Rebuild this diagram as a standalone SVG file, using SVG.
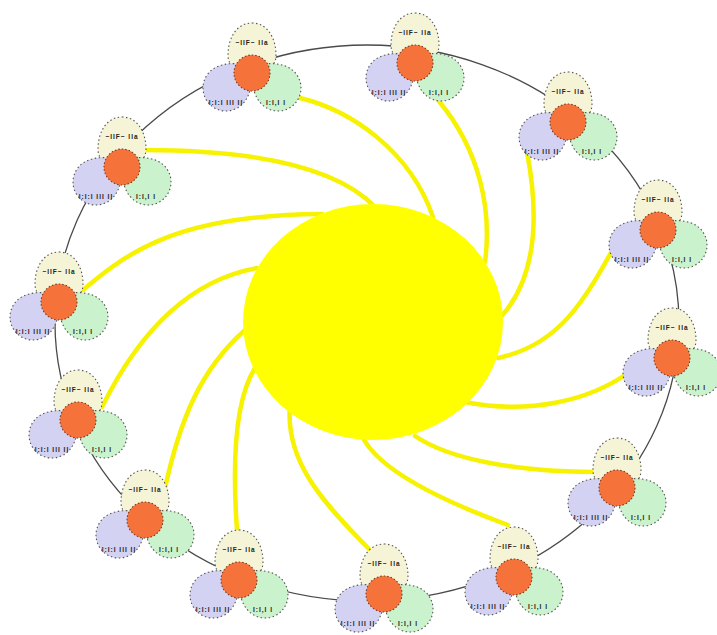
<svg xmlns="http://www.w3.org/2000/svg" xmlns:xlink="http://www.w3.org/1999/xlink" width="717" height="635" viewBox="0 0 717 635">
<style>
.ring{fill:none;stroke:#4a4a4a;stroke-width:1.3}
.ray{fill:none;stroke:#f6f200;stroke-width:4.5;stroke-linecap:round}
.sun{fill:#ffff00}
.pt{fill:#f6f4d6;stroke:#555;stroke-width:1.1;stroke-dasharray:1.5 2.5}
.pl{fill:#d3d2f2;stroke:#555;stroke-width:1.1;stroke-dasharray:1.5 2.5}
.pg{fill:#caf2cc;stroke:#555;stroke-width:1.1;stroke-dasharray:1.5 2.5}
.core{fill:#f5733a;stroke:#7a3a22;stroke-width:1.1;stroke-dasharray:1.5 2}
.lbl{font-family:"Liberation Sans",Arial,sans-serif;font-size:6.5px;font-weight:bold;fill:#222;text-anchor:middle;letter-spacing:1px}
</style>
<defs>
<path id="tear" d="M0,-32 C10,-28 23,-14 23,0 A23,23 0 0 1 -23,0 C-23,-14 -10,-28 0,-32 Z"/>
<path id="dome" d="M0,-50 C16,-50 24,-34 24,-18 C24,-6 14,0 0,0 C-14,0 -24,-6 -24,-18 C-24,-34 -16,-50 0,-50 Z"/>
<g id="cl">
<use xlink:href="#dome" class="pt"/>
<use xlink:href="#tear" class="pl" transform="translate(-26,15) rotate(50)"/>
<use xlink:href="#tear" class="pg" transform="translate(26,15) rotate(-50)"/>
<circle class="core" cx="0" cy="0" r="18"/>
</g>
</defs>
<rect width="717" height="635" fill="#ffffff"/>
<ellipse class="ring" cx="367" cy="323" rx="312" ry="278"/>
<g id="connectors">
<path class="ray" d="M300,98 C350,110 410,150 433,217"/>
<path class="ray" d="M143,150 C230,150 330,160 375,207"/>
<path class="ray" d="M83,290 C130,250 180,215 322,214"/>
<path class="ray" d="M102,407 C140,330 190,280 257,268"/>
<path class="ray" d="M165,488 C180,420 200,370 245,330"/>
<path class="ray" d="M237,530 C232,460 235,400 255,368"/>
<path class="ray" d="M373,553 C320,500 285,460 290,405"/>
<path class="ray" d="M508,525 C440,500 380,470 363,438"/>
<path class="ray" d="M415,436 C450,460 520,472 595,472"/>
<path class="ray" d="M465,402 C530,415 590,400 628,373"/>
<path class="ray" d="M498,358 C560,345 585,300 618,240"/>
<path class="ray" d="M527,152 C540,220 535,280 500,318"/>
<path class="ray" d="M438,100 C480,150 492,210 485,262"/>
</g>
<ellipse id="sun" class="sun" cx="373" cy="322" rx="130" ry="118"/>
<g id="node-1" transform="translate(415,63)"><use xlink:href="#cl"/><text class="lbl" x="0" y="-28">~IIF~ IIa</text><text class="lbl" x="-26" y="32">I:I:I IlI II</text><text class="lbl" x="24" y="32">I:I,I  I</text></g>
<g id="node-2" transform="translate(252,73)"><use xlink:href="#cl"/><text class="lbl" x="0" y="-28">~IIF~ IIa</text><text class="lbl" x="-26" y="32">I:I:I IlI II</text><text class="lbl" x="24" y="32">I:I,I  I</text></g>
<g id="node-3" transform="translate(568,122)"><use xlink:href="#cl"/><text class="lbl" x="0" y="-28">~IIF~ IIa</text><text class="lbl" x="-26" y="32">I:I:I IlI II</text><text class="lbl" x="24" y="32">I:I,I  I</text></g>
<g id="node-4" transform="translate(122,167)"><use xlink:href="#cl"/><text class="lbl" x="0" y="-28">~IIF~ IIa</text><text class="lbl" x="-26" y="32">I:I:I IlI II</text><text class="lbl" x="24" y="32">I:I,I  I</text></g>
<g id="node-5" transform="translate(658,230)"><use xlink:href="#cl"/><text class="lbl" x="0" y="-28">~IIF~ IIa</text><text class="lbl" x="-26" y="32">I:I:I IlI II</text><text class="lbl" x="24" y="32">I:I,I  I</text></g>
<g id="node-6" transform="translate(59,302)"><use xlink:href="#cl"/><text class="lbl" x="0" y="-28">~IIF~ IIa</text><text class="lbl" x="-26" y="32">I:I:I IlI II</text><text class="lbl" x="24" y="32">I:I,I  I</text></g>
<g id="node-7" transform="translate(672,358)"><use xlink:href="#cl"/><text class="lbl" x="0" y="-28">~IIF~ IIa</text><text class="lbl" x="-26" y="32">I:I:I IlI II</text><text class="lbl" x="24" y="32">I:I,I  I</text></g>
<g id="node-8" transform="translate(78,420)"><use xlink:href="#cl"/><text class="lbl" x="0" y="-28">~IIF~ IIa</text><text class="lbl" x="-26" y="32">I:I:I IlI II</text><text class="lbl" x="24" y="32">I:I,I  I</text></g>
<g id="node-9" transform="translate(617,488)"><use xlink:href="#cl"/><text class="lbl" x="0" y="-28">~IIF~ IIa</text><text class="lbl" x="-26" y="32">I:I:I IlI II</text><text class="lbl" x="24" y="32">I:I,I  I</text></g>
<g id="node-10" transform="translate(145,520)"><use xlink:href="#cl"/><text class="lbl" x="0" y="-28">~IIF~ IIa</text><text class="lbl" x="-26" y="32">I:I:I IlI II</text><text class="lbl" x="24" y="32">I:I,I  I</text></g>
<g id="node-11" transform="translate(514,577)"><use xlink:href="#cl"/><text class="lbl" x="0" y="-28">~IIF~ IIa</text><text class="lbl" x="-26" y="32">I:I:I IlI II</text><text class="lbl" x="24" y="32">I:I,I  I</text></g>
<g id="node-12" transform="translate(239,580)"><use xlink:href="#cl"/><text class="lbl" x="0" y="-28">~IIF~ IIa</text><text class="lbl" x="-26" y="32">I:I:I IlI II</text><text class="lbl" x="24" y="32">I:I,I  I</text></g>
<g id="node-13" transform="translate(384,594)"><use xlink:href="#cl"/><text class="lbl" x="0" y="-28">~IIF~ IIa</text><text class="lbl" x="-26" y="32">I:I:I IlI II</text><text class="lbl" x="24" y="32">I:I,I  I</text></g>
</svg>
